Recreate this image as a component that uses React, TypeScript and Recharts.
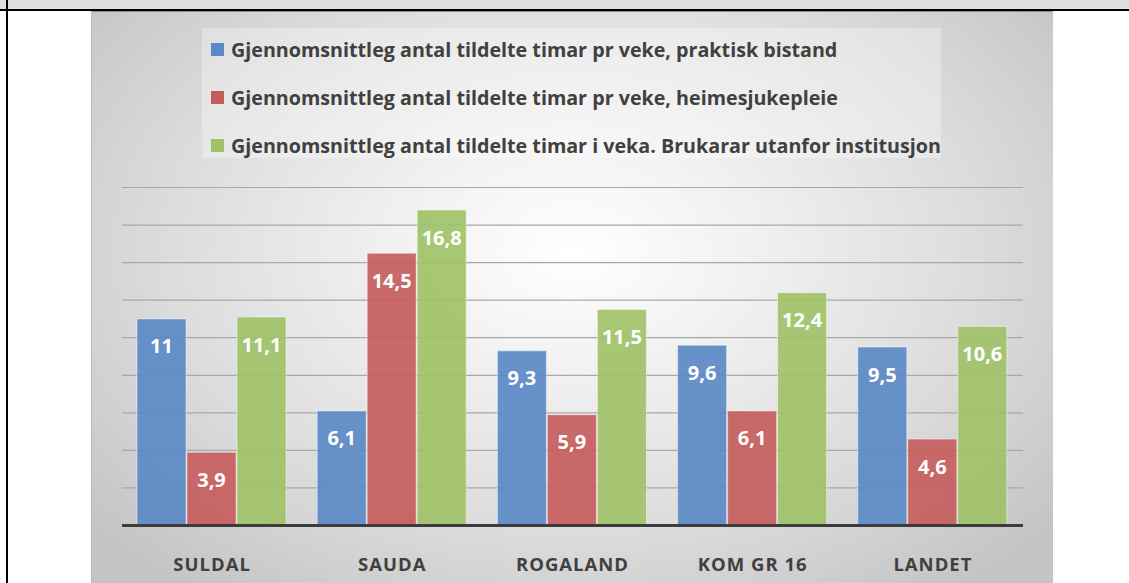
import React from 'react';
import { BarChart, Bar, XAxis, YAxis, CartesianGrid, Legend, LabelList } from 'recharts';

const categories = ['SULDAL', 'SAUDA', 'ROGALAND', 'KOM GR 16', 'LANDET'];
const praktisk = [11, 6.1, 9.3, 9.6, 9.5];
const heimesjuke = [3.9, 14.5, 5.9, 6.1, 4.6];
const utanfor = [11.1, 16.8, 11.5, 12.4, 10.6];
const yTicks = [0, 2, 4, 6, 8, 10, 12, 14, 16, 18];

const seriesNames = [
  'Gjennomsnittleg antal tildelte timar pr veke, praktisk bistand',
  'Gjennomsnittleg antal tildelte timar pr veke, heimesjukepleie',
  'Gjennomsnittleg antal tildelte timar i veka. Brukarar utanfor institusjon',
];

const data = categories.map((c, i) => ({
  name: c,
  praktisk: praktisk[i],
  heimesjuke: heimesjuke[i],
  utanfor: utanfor[i],
}));

const FONT = '"Open Sans", Lato, sans-serif';

const renderLabel = (props: any) => {
  const { x, y, width, value } = props;
  return (
    <text
      x={x + width / 2}
      y={y + 27}
      textAnchor="middle"
      dominantBaseline="central"
      fill="#ffffff"
      fontFamily={FONT}
      fontWeight={700}
      fontSize={20}
    >
      {String(value).replace('.', ',')}
    </text>
  );
};

const renderTick = (props: any) => {
  const { x, y, payload } = props;
  return (
    <text
      x={x}
      y={y + 30}
      textAnchor="middle"
      dominantBaseline="central"
      fill="#404040"
      fontFamily={FONT}
      fontWeight={700}
      fontSize={18.5}
      letterSpacing={1}
    >
      {payload.value}
    </text>
  );
};

const renderLegend = (props: any) => {
  const items = [...(props.payload || [])].sort(
    (a: any, b: any) => seriesNames.indexOf(a.value) - seriesNames.indexOf(b.value),
  );
  return (
    <div style={{ position: 'relative', width: 739, height: 130, background: 'rgba(255,255,255,0.3)' }}>
      {items.map((p: any, i: number) => (
        <div
          key={p.value}
          style={{ position: 'absolute', left: 9, top: 21 + i * 48 - 15, height: 30, display: 'flex', alignItems: 'center' }}
        >
          <span style={{ width: 13, height: 13, background: p.color, display: 'inline-block', marginRight: 7 }} />
          <span style={{ fontFamily: FONT, fontWeight: 700, fontSize: 19.7, color: '#404040', whiteSpace: 'nowrap' }}>
            {p.value}
          </span>
        </div>
      ))}
    </div>
  );
};

export default function App() {
  return (
    <div style={{ position: 'absolute', left: 0, top: 0, width: 1129, height: 583, overflow: 'hidden', background: '#fff' }}>
      <div style={{ position: 'absolute', left: 0, top: 0, width: 1129, height: 9, background: '#e0e0e0' }} />
      <div style={{ position: 'absolute', left: 0, top: 9, width: 1129, height: 1.5, background: '#000' }} />
      <div style={{ position: 'absolute', left: 6, top: 0, width: 1.5, height: 583, background: '#000' }} />
      <div
        style={{
          position: 'absolute',
          left: 91,
          top: 10.5,
          width: 962,
          height: 573,
          borderTop: '1px solid #8c8c8c',
          borderLeft: '1px solid #bdbdbd',
          boxSizing: 'border-box',
          background:
            'radial-gradient(ellipse 65% 75% at 50% 42%, #ffffff 0%, #f0f0f0 30%, #dcdcdc 65%, #c4c4c4 100%)',
        }}
      />
      <div style={{ position: 'absolute', left: 0, top: 0 }}>
        <BarChart
          width={1129}
          height={583}
          data={data}
          margin={{ top: 187.5, right: 106, bottom: 0, left: 122 }}
          barCategoryGap={15}
          barGap={1}
        >
          <CartesianGrid vertical={false} stroke="#a8a8a8" strokeWidth={1.2} />
          <YAxis hide domain={[0, 18]} ticks={yTicks} />
          <XAxis
            dataKey="name"
            height={57.5}
            tickLine={false}
            axisLine={{ stroke: '#3c3c3c', strokeWidth: 3 }}
            tick={renderTick}
            interval={0}
          />
          <Legend
            layout="vertical"
            align="center"
            verticalAlign="middle"
            content={renderLegend}
            wrapperStyle={{ top: 28, left: 202, width: 739, height: 130 }}
          />
          <Bar
            dataKey="praktisk"
            name={seriesNames[0]}
            fill="#5b8ac6"
            fillOpacity={0.92}
            stroke="rgba(255,255,255,0.45)"
            strokeWidth={1}
            isAnimationActive={false}
          >
            <LabelList dataKey="praktisk" content={renderLabel} />
          </Bar>
          <Bar
            dataKey="heimesjuke"
            name={seriesNames[1]}
            fill="#c65d5d"
            fillOpacity={0.92}
            stroke="rgba(255,255,255,0.45)"
            strokeWidth={1}
            isAnimationActive={false}
          >
            <LabelList dataKey="heimesjuke" content={renderLabel} />
          </Bar>
          <Bar
            dataKey="utanfor"
            name={seriesNames[2]}
            fill="#a0c268"
            fillOpacity={0.92}
            stroke="rgba(255,255,255,0.45)"
            strokeWidth={1}
            isAnimationActive={false}
          >
            <LabelList dataKey="utanfor" content={renderLabel} />
          </Bar>
        </BarChart>
      </div>
    </div>
  );
}
